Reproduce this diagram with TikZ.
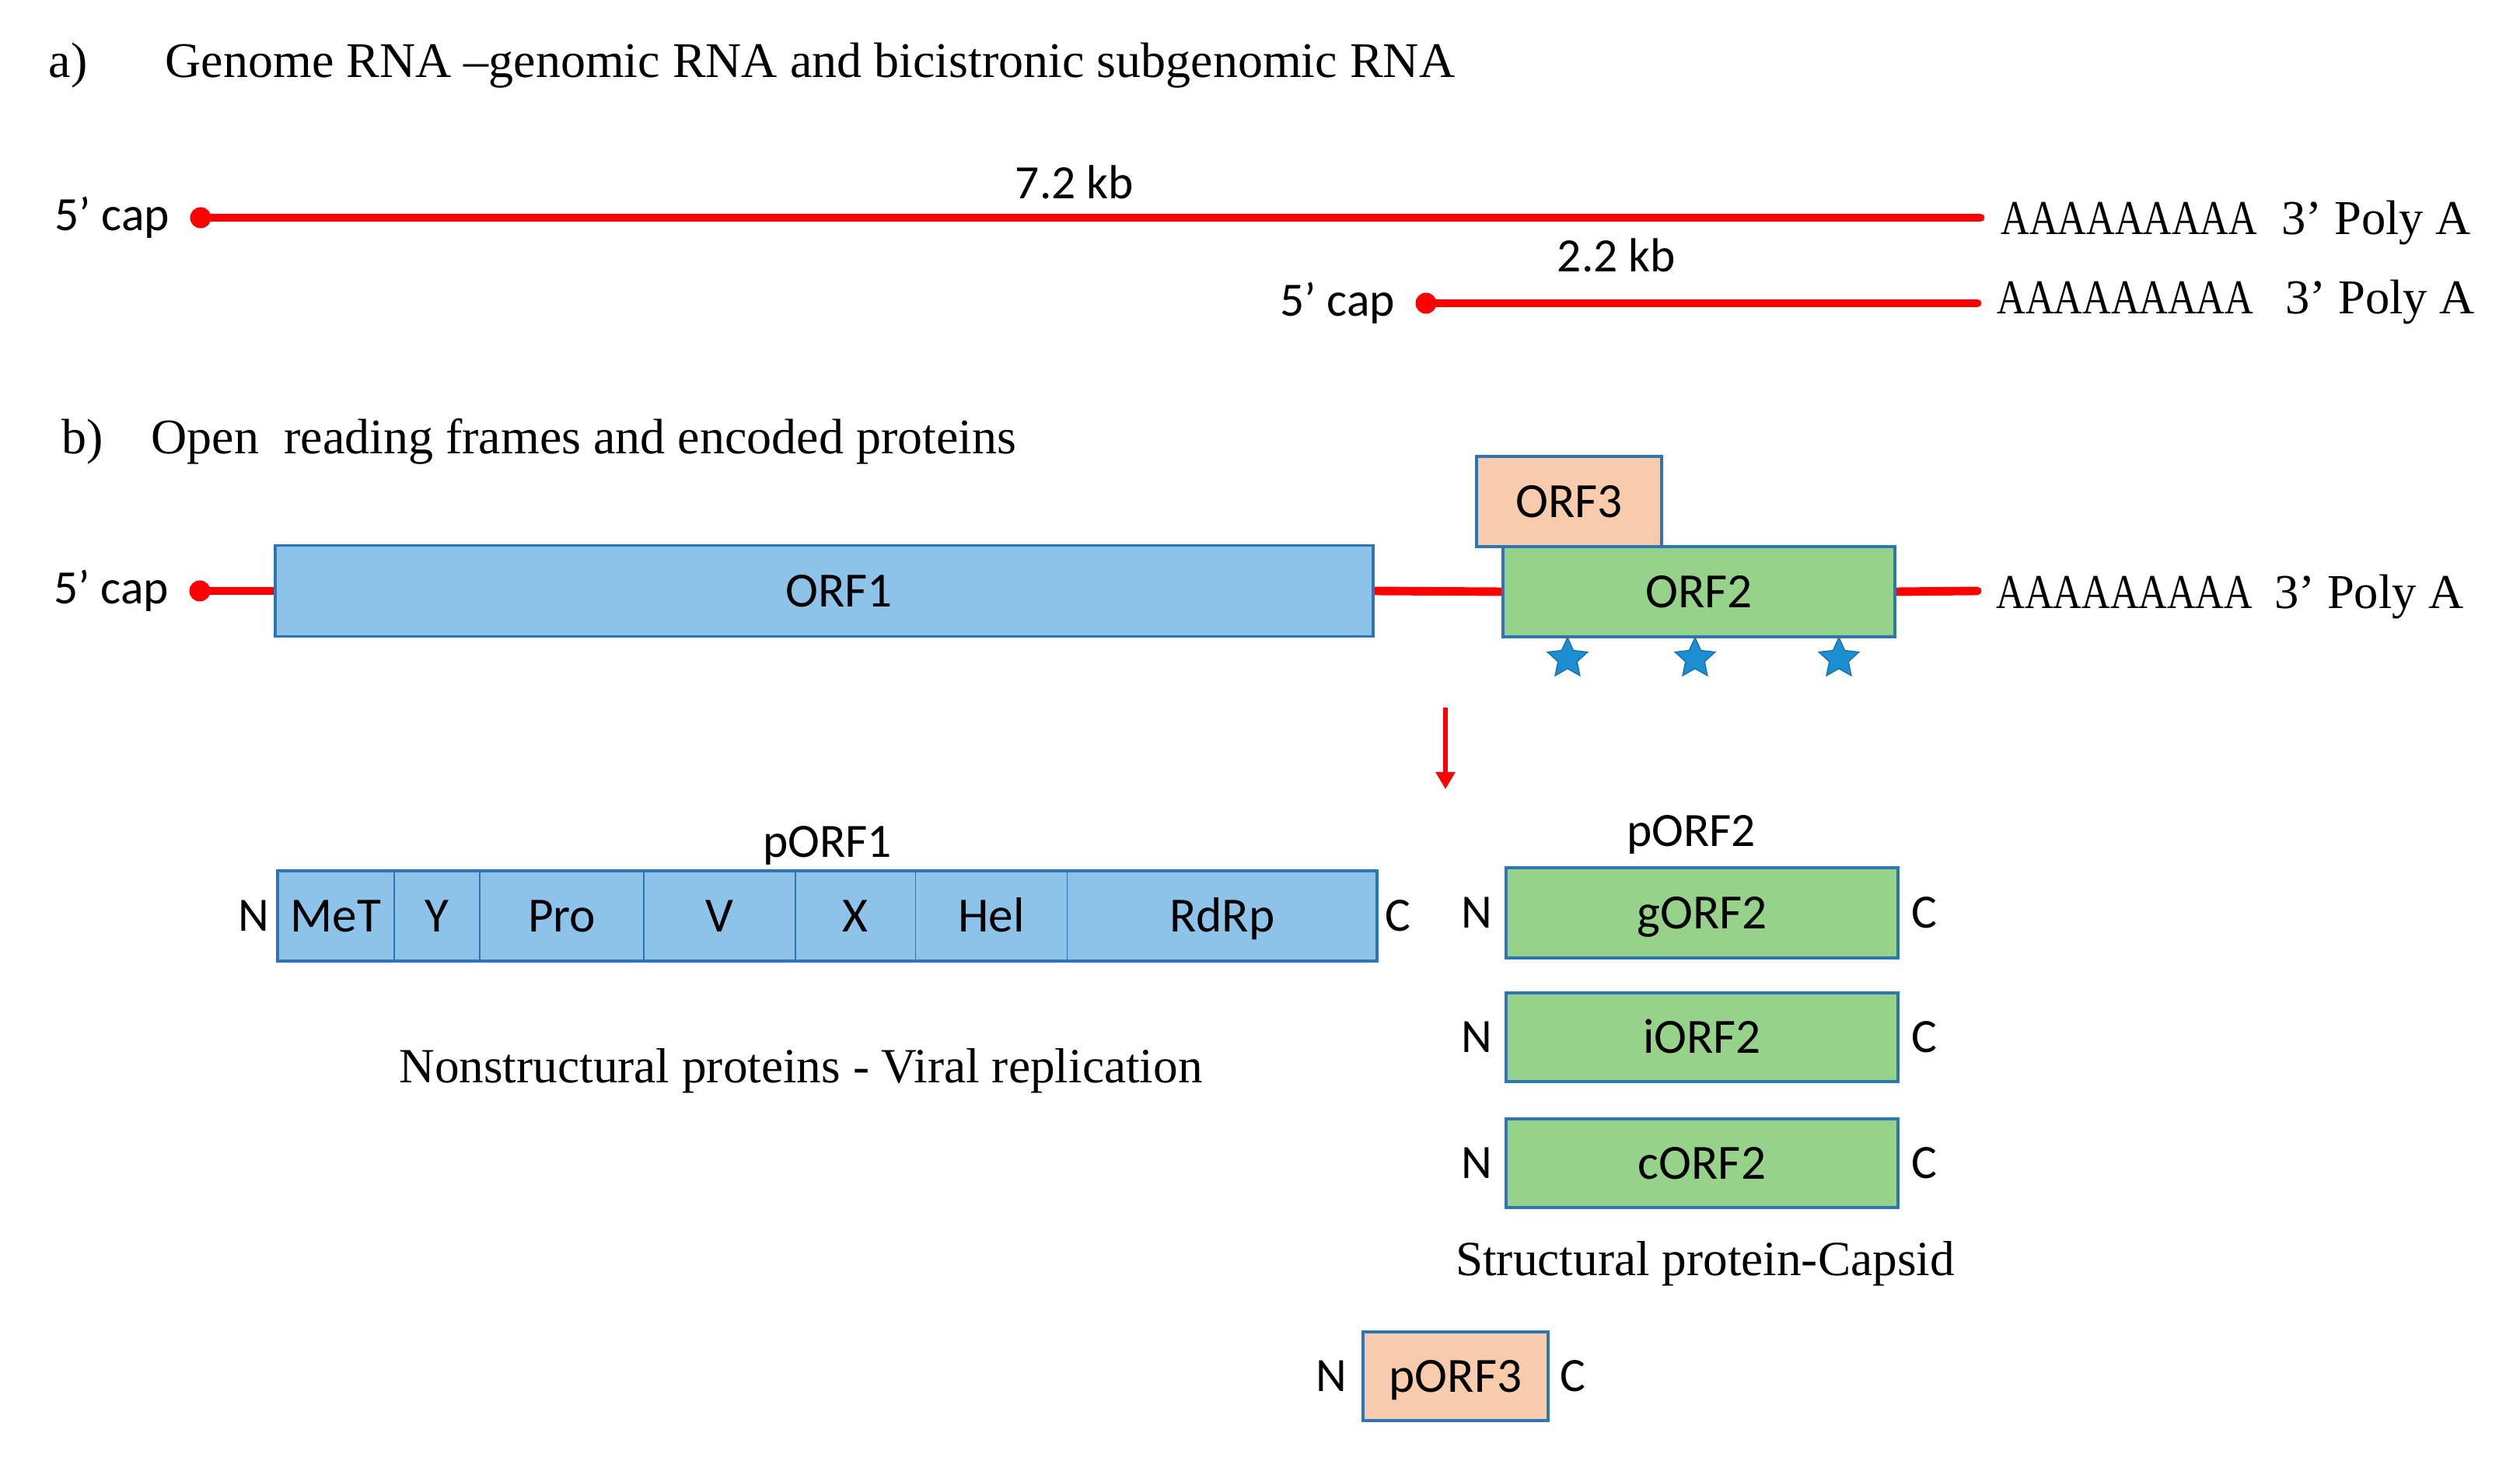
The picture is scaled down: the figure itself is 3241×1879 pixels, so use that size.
\documentclass[tikz,border=0pt]{standalone}
\usepackage{fontspec}
\usepackage{graphicx}
\setmainfont{Liberation Serif}
\newfontfamily\calfont{Carlito}
\usetikzlibrary{positioning, shapes.geometric, arrows.meta}

\definecolor{orfblue}{RGB}{142,195,233}
\definecolor{orfgreen}{RGB}{151,210,139}
\definecolor{orfpeach}{RGB}{248,203,173}
\definecolor{orfedge}{RGB}{46,117,182}
\definecolor{starblue}{RGB}{28,142,210}
\definecolor{rnared}{RGB}{255,0,0}

\newcommand{\polyA}{\scalebox{0.81}[1]{AAAAAAAAA}}

\tikzset{
  rna/.style={line width=3.1pt, rnared, line cap=round},
  capdot/.style={circle, fill=rnared, inner sep=0pt, minimum size=0.27cm},
  orfbox/.style={draw=orfedge, line width=1.1pt, inner sep=0pt, outer sep=0pt, text height=11.5pt, text depth=0pt, font=\calfont\fontsize{18}{21}\selectfont},
  seg/.style={draw=orfedge, line width=0.5pt, fill=orfblue, minimum height=1.16cm, inner sep=0pt, outer sep=0pt, text height=11.5pt, text depth=0pt, font=\calfont\fontsize{18}{21}\selectfont},
  callbl/.style={font=\calfont\fontsize{17.5}{21}\selectfont, inner sep=0pt},
  serif/.style={font=\fontsize{18.2}{22}\selectfont, inner sep=0pt},
  polya/.style={font=\fontsize{17.8}{20}\selectfont, inner sep=0pt, anchor=base west},
  orfstar/.style={star, star points=5, star point ratio=2.1, fill=starblue, draw=starblue!80!black, line width=0.4pt, inner sep=0pt, minimum size=0.54cm},
}

\begin{document}
\begin{tikzpicture}[x=0.01cm, y=-0.01cm]
\useasboundingbox (0,0) rectangle (3241,1879);

\node[serif, anchor=base west] (tla) at (62,100) {a)};
\node[serif, anchor=base west] (ttla) at (212,100) {Genome RNA –genomic RNA and bicistronic subgenomic RNA};

\node[capdot] (d1) at (258,280) {};
\coordinate (e1) at (2547,280);
\draw[rna] (d1.center) -- (e1);
\node[callbl, left=0.25cm of d1] (c1) {5’ cap};
\node[callbl, anchor=base] (kb1) at (1382,255) {7.2 kb};
\node[polya] (pa1) at (2573,302) {\polyA\hspace{0.5em}3’ Poly A};

\node[capdot] (d2) at (1834,390) {};
\coordinate (e2) at (2543,390);
\draw[rna] (d2.center) -- (e2);
\node[callbl, left=0.25cm of d2] (c2) {5’ cap};
\node[callbl, anchor=base] (kb2) at (2079,350) {2.2 kb};
\node[polya] (pa2) at (2568,403) {\polyA\hspace{0.66em}3’ Poly A};

\node[serif, anchor=base west] (tlb) at (79,583) {b)};
\node[serif, anchor=base west] (ttlb) at (194,583) {Open\ \ reading frames and encoded proteins};

\node[capdot] (d3) at (257,760) {};
\coordinate (e3) at (2543,760);
\node[callbl, left=0.25cm of d3] (c3) {5’ cap};
\node[orfbox, minimum width=14.12cm, minimum height=1.17cm] (orf1) at (1060,760) {};
\node[orfbox, minimum width=5.03cm, minimum height=1.16cm] (orf2) at (2185,761) {};
\draw[rna] (d3.center) -- (orf1.west);
\draw[rna] (orf1.east) -- (orf2.west);
\draw[rna] (orf2.east) -- (e3);
\node[orfbox, fill=orfblue, minimum width=14.12cm, minimum height=1.17cm] at (orf1) {};
\node[callbl, font=\calfont\fontsize{18}{21}\selectfont, text height=11.5pt, text depth=0pt] (orf1lbl) at (1079,760) {ORF1};
\node[orfbox, fill=orfpeach, minimum width=2.38cm, minimum height=1.16cm] (orf3) at (2018,645) {ORF3};
\node[orfbox, fill=orfgreen, minimum width=5.03cm, minimum height=1.16cm] at (orf2) {ORF2};
\node[polya] (pa3) at (2567,782) {\polyA\hspace{0.45em}3’ Poly A};
\node[orfstar] (s1) at (2016,847) {};
\node[orfstar] (s2) at (2180,847) {};
\node[orfstar] (s3) at (2365,847) {};

\coordinate (a0) at (1859,910);
\coordinate (a1) at (1859,1015);
\draw[line width=1.7pt, rnared, -{Triangle[width=0.24cm, length=0.22cm]}] (a0) -- (a1);

\node[callbl, anchor=base] (porf1) at (1064,1102) {pORF1};
\node[seg, minimum width=1.50cm] (met) at (432,1178) {MeT};
\node[seg, minimum width=1.10cm, right=0pt of met] (tyr) {Y};
\node[seg, minimum width=2.11cm, right=0pt of tyr] (pro) {Pro};
\node[seg, minimum width=1.95cm, right=0pt of pro] (hvr) {V};
\node[seg, minimum width=1.54cm, right=0pt of hvr] (mac) {X};
\node[seg, minimum width=1.95cm, right=0pt of mac] (hel) {Hel};
\node[seg, minimum width=3.98cm, right=0pt of hel] (rdrp) {RdRp};
\draw[draw=orfedge, line width=1.1pt] (met.north west) rectangle (rdrp.south east);
\node[callbl, left=0.1cm of met] (n1) {N};
\node[callbl, right=0.1cm of rdrp] (cc1) {C};
\node[serif, anchor=base, font=\fontsize{18}{22}\selectfont] (nsp) at (1030,1392) {Nonstructural proteins - Viral replication};

\node[callbl, anchor=base] (porf2) at (2175,1088) {pORF2};
\node[orfbox, fill=orfgreen, minimum width=5.04cm, minimum height=1.16cm] (gorf2) at (2189,1174) {gORF2};
\node[orfbox, fill=orfgreen, minimum width=5.04cm, minimum height=1.14cm, below=0.45cm of gorf2] (iorf2) {iORF2};
\node[orfbox, fill=orfgreen, minimum width=5.04cm, minimum height=1.14cm, below=0.48cm of iorf2] (corf2) {cORF2};
\foreach \b in {gorf2, iorf2, corf2}{
  \node[callbl, left=0.17cm of \b] {N};
  \node[callbl, right=0.17cm of \b] {C};
}
\node[serif, anchor=base, font=\fontsize{18}{22}\selectfont] (sp) at (2193,1640) {Structural protein-Capsid};

\node[orfbox, fill=orfpeach, minimum width=2.38cm, minimum height=1.14cm] (porf3) at (1872,1770) {pORF3};
\node[callbl, left=0.2cm of porf3] (n3) {N};
\node[callbl, right=0.15cm of porf3] (cc3) {C};
\end{tikzpicture}
\end{document}
